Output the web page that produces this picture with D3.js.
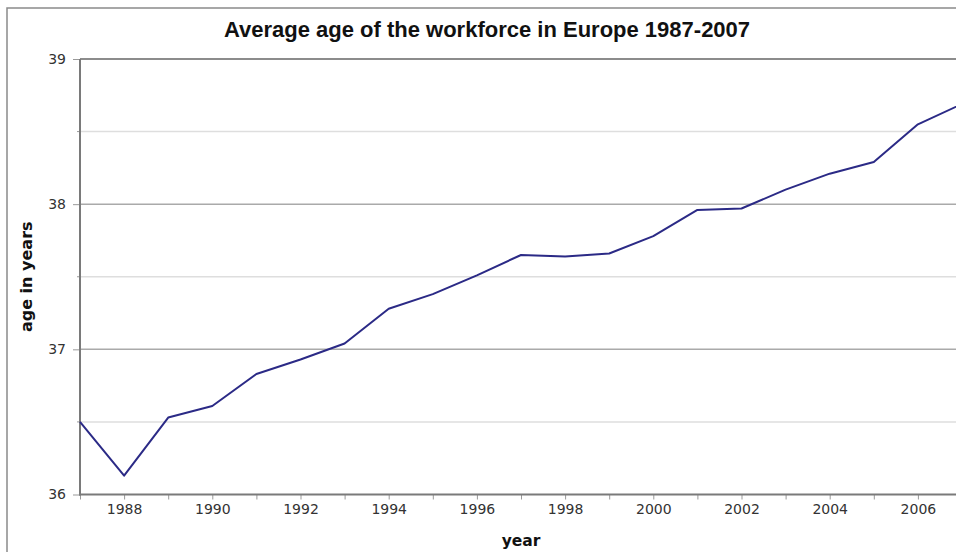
<!DOCTYPE html>
<html>
<head>
<meta charset="utf-8">
<script src="https://cdn.jsdelivr.net/npm/d3@7"></script>
<style>
  html, body { margin: 0; padding: 0; background: #fff; }
  svg { display: block; }
</style>
</head>
<body>
<svg id="chart" width="956" height="552"></svg>
<script>
const years = [1987,1988,1989,1990,1991,1992,1993,1994,1995,1996,1997,1998,1999,2000,2001,2002,2003,2004,2005,2006,2007];
const ages  = [36.50,36.13,36.53,36.61,36.83,36.93,37.04,37.28,37.38,37.51,37.65,37.64,37.66,37.78,37.96,37.97,38.10,38.21,38.29,38.55,38.69];
const yMajorTicks = [36,37,38,39];
const yMinorTicks = [36.5,37.5,38.5];
const xMajorTicks = [1988,1990,1992,1994,1996,1998,2000,2002,2004,2006];
const xAllTicks = d3.range(1987, 2008);
const titleText = "Average age of the workforce in Europe 1987-2007";
const xLabel = "year";
const yLabel = "age in years";

const svg = d3.select("#chart");
const L = 80, R = 962, T = 59, B = 494.5;
const x = d3.scaleLinear().domain([1987, 2007]).range([L, R]);
const y = d3.scaleLinear().domain([36, 39]).range([B, T]);

// outer frame
svg.append("rect").attr("x", 7).attr("y", 8).attr("width", 1000).attr("height", 1000)
  .attr("fill", "#fff").attr("stroke", "#8a8a8a").attr("stroke-width", 1.5);

// title
svg.append("text").attr("x", 487).attr("y", 37).attr("text-anchor", "middle")
  .attr("font-family", "Liberation Sans, Arial, sans-serif").attr("font-weight", "bold")
  .attr("font-size", 22).attr("fill", "#111").text(titleText);

// gridlines
svg.append("g").selectAll("line").data(yMinorTicks).join("line")
  .attr("x1", L).attr("x2", 956).attr("y1", d => y(d)).attr("y2", d => y(d))
  .attr("stroke", "#dedede").attr("stroke-width", 1.5);
svg.append("g").selectAll("line").data(yMajorTicks.slice(1, 3)).join("line")
  .attr("x1", L).attr("x2", 956).attr("y1", d => y(d)).attr("y2", d => y(d))
  .attr("stroke", "#aaaaaa").attr("stroke-width", 1.5);
// top border of plot
svg.append("line").attr("x1", L).attr("x2", 956).attr("y1", y(39)).attr("y2", y(39))
  .attr("stroke", "#8c8c8c").attr("stroke-width", 2);

// y axis
const yAxis = d3.axisLeft(y).tickValues(yMajorTicks).tickSize(7).tickPadding(7).tickFormat(d3.format("d"));
const gy = svg.append("g").attr("transform", `translate(${L},0)`).call(yAxis);
gy.select(".domain").remove();
gy.selectAll(".tick line").attr("stroke", "#999").attr("stroke-width", 1);
gy.selectAll(".tick text").attr("font-family", "DejaVu Sans, sans-serif").attr("font-size", 14).attr("fill", "#333");
svg.append("g").selectAll("line").data(yMinorTicks).join("line")
  .attr("x1", L - 3).attr("x2", L).attr("y1", d => y(d)).attr("y2", d => y(d))
  .attr("stroke", "#999").attr("stroke-width", 1);

// x axis ticks
const xAxis = d3.axisBottom(x).tickValues(xAllTicks).tickSize(5).tickPadding(5)
  .tickFormat(d => xMajorTicks.includes(d) ? d3.format("d")(d) : "");
const gx = svg.append("g").attr("transform", `translate(0,${B})`).call(xAxis);
gx.select(".domain").remove();
gx.selectAll(".tick line").attr("stroke", "#999").attr("stroke-width", 1);
gx.selectAll(".tick text").attr("font-family", "DejaVu Sans, sans-serif").attr("font-size", 14).attr("fill", "#333");

// axis lines
svg.append("line").attr("x1", L).attr("x2", L).attr("y1", T).attr("y2", B + 1)
  .attr("stroke", "#7a7a7a").attr("stroke-width", 2);
svg.append("line").attr("x1", L - 1).attr("x2", 956).attr("y1", B).attr("y2", B)
  .attr("stroke", "#7a7a7a").attr("stroke-width", 2);

// line
const line = d3.line().x((d, i) => x(years[i])).y(d => y(d));
svg.append("path").datum(ages).attr("d", line).attr("fill", "none")
  .attr("stroke", "#2b2a86").attr("stroke-width", 2).attr("stroke-linejoin", "round");

// axis labels
svg.append("text").attr("x", (L + R) / 2).attr("y", 546).attr("text-anchor", "middle")
  .attr("font-family", "DejaVu Sans, sans-serif").attr("font-weight", "bold").attr("font-size", 15.5)
  .attr("fill", "#111").text(xLabel);
svg.append("text").attr("transform", `translate(32,${(T + B) / 2}) rotate(-90)`).attr("text-anchor", "middle")
  .attr("font-family", "DejaVu Sans, sans-serif").attr("font-weight", "bold").attr("font-size", 16)
  .attr("fill", "#111").text(yLabel);
</script>
</body>
</html>
